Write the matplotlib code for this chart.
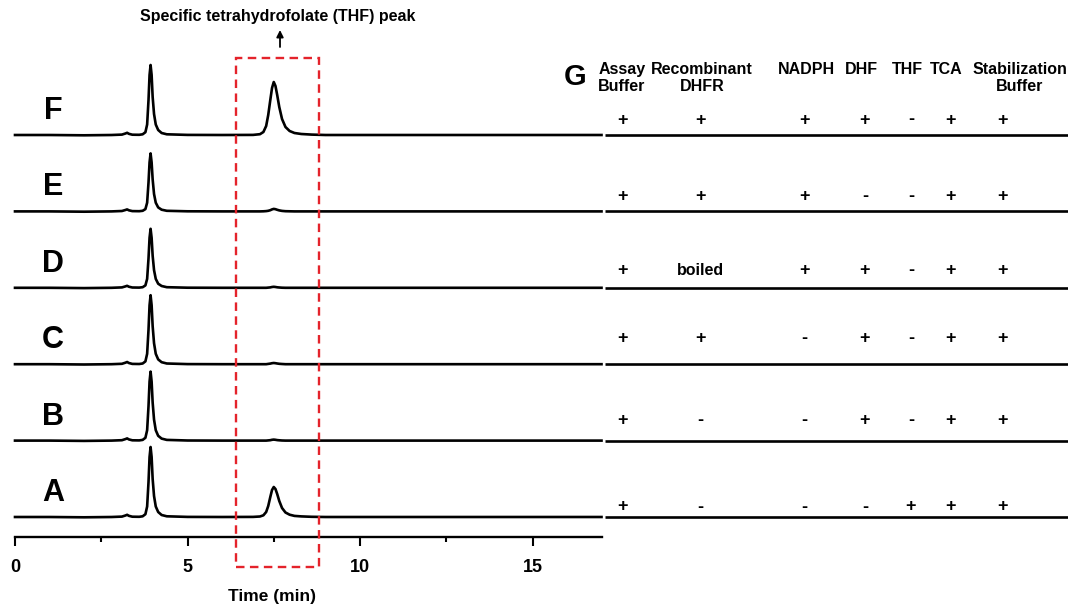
import matplotlib.pyplot as plt
from matplotlib.patches import Rectangle

# retention time grid (min) shared by all traces
t_min = [0.0, 1.0, 2.0, 2.8, 3.1, 3.2, 3.25, 3.3, 3.4, 3.6,
         3.7, 3.78, 3.83, 3.87, 3.9, 3.93, 3.96, 3.99, 4.03, 4.08,
         4.15, 4.25, 4.4, 5.0, 6.0, 6.9,
         7.1, 7.2, 7.28, 7.34, 7.4, 7.45, 7.5, 7.55, 7.6, 7.66,
         7.74, 7.84, 7.96, 8.1, 8.3, 8.6,
         9.0, 10.0, 12.0, 14.0, 17.0]

# detector signal (arbitrary units)
sig_A = [0, 0, -0.3, 0, 0.4, 1.5, 2.2, 1.2, 0.3, 0.2,
         0.7, 2.8, 10.5, 35, 60, 70, 60, 38, 21, 10.5,
         5, 2, 0.7, 0.1, 0, 0.1,
         0.5, 1.7, 5, 11, 20, 27, 30, 28, 23, 16,
         9, 4.5, 2.3, 1.1, 0.6, 0.2,
         0, 0, 0, 0, 0]
sig_B = [0, 0, -0.3, 0, 0.4, 1.5, 2.2, 1.2, 0.3, 0.2,
         0.7, 2.8, 10.4, 34.5, 59, 69, 59, 38, 21, 10.4,
         4.8, 2, 0.7, 0.1, 0, 0,
         0, 0, 0, 0.2, 0.4, 0.8, 1.0, 0.8, 0.5, 0.3,
         0.1, 0, 0, 0, 0, 0,
         0, 0, 0, 0, 0]
sig_C = [0, 0, -0.3, 0, 0.4, 1.5, 2.2, 1.2, 0.3, 0.2,
         0.7, 2.8, 10.4, 34.5, 59, 69, 59, 38, 21, 10.4,
         4.8, 2, 0.7, 0.1, 0, 0,
         0, 0, 0, 0.3, 0.6, 1.0, 1.2, 1.0, 0.7, 0.4,
         0.2, 0, 0, 0, 0, 0,
         0, 0, 0, 0, 0]
sig_D = [0, 0, -0.3, 0, 0.4, 1.4, 2.0, 1.1, 0.3, 0.2,
         0.6, 2.4, 8.9, 29.5, 50, 59, 50, 32, 17.7, 8.9,
         4.1, 1.8, 0.6, 0.1, 0, 0,
         0, 0, 0, 0.2, 0.4, 0.8, 1.0, 0.8, 0.5, 0.3,
         0.1, 0, 0, 0, 0, 0,
         0, 0, 0, 0, 0]
sig_E = [0, 0, -0.3, 0, 0.4, 1.4, 2.0, 1.1, 0.3, 0.2,
         0.6, 2.3, 8.7, 29, 49, 58, 49, 32, 17.4, 8.7,
         4, 1.7, 0.6, 0.1, 0, 0,
         0, 0.1, 0.3, 0.6, 1.2, 2.0, 2.5, 2.2, 1.6, 1.0,
         0.5, 0.2, 0.1, 0, 0, 0,
         0, 0, 0, 0, 0]
sig_F = [0, 0, -0.3, 0, 0.4, 1.5, 2.2, 1.2, 0.3, 0.2,
         0.7, 2.8, 10.5, 35, 60, 70, 60, 38, 21, 10.5,
         5, 2, 0.7, 0.1, 0, 0.1,
         0.8, 3, 9, 20, 35, 47, 53, 49, 40, 28,
         16, 8, 4, 2, 1, 0.4,
         0, 0, 0, 0, 0]

trace_names = ["A", "B", "C", "D", "E", "F"]
traces = [sig_A, sig_B, sig_C, sig_D, sig_E, sig_F]

# table G
columns = ["Assay\nBuffer", "Recombinant\nDHFR", "NADPH", "DHF", "THF", "TCA",
           "Stabilization\nBuffer"]
rows = {
    "A": ["+", "-", "-", "-", "+", "+", "+"],
    "B": ["+", "-", "-", "+", "-", "+", "+"],
    "C": ["+", "+", "-", "+", "-", "+", "+"],
    "D": ["+", "boiled", "+", "+", "-", "+", "+"],
    "E": ["+", "+", "+", "-", "-", "+", "+"],
    "F": ["+", "+", "+", "+", "-", "+", "+"],
}

box_t = (6.4, 8.8)

# ---- layout (pixels of the 1070x607 picture) ----
W, H = 1070, 607
axis_y, top_y = 537, 30
x0_px, x17_px = 15, 601.5
right_end = 1068
spacing = 76.4
offsets = [20 + i * spacing for i in range(6)]
head_x = [622, 702, 806, 861, 907, 946, 1020]
cell_x = [622, 700, 804, 865, 911, 951, 1003]
cell_dy = [10, 20, 26, 17, 15, 15]

plt.rcParams['font.family'] = ['Liberation Sans', 'DejaVu Sans']
plt.rcParams['font.weight'] = 'bold'

fig = plt.figure(figsize=(W / 100, H / 100), dpi=100)


def fx(x):
    return x / W


def fy(y):
    return 1 - y / H


ax = fig.add_axes([fx(x0_px), fy(axis_y), (x17_px - x0_px) / W, (axis_y - top_y) / H])
ax.set_xlim(0, 17)
ax.set_ylim(0, axis_y - top_y)

for name, sig, off in zip(trace_names, traces, offsets):
    ax.plot(t_min, [off + s for s in sig], color='black', lw=1.9,
            solid_joinstyle='round', clip_on=False)
    ax.text(1.1, off + 24, name, fontsize=22, fontweight='bold',
            ha='center', va='center')

for sp in ['top', 'right', 'left']:
    ax.spines[sp].set_visible(False)
ax.spines['bottom'].set_linewidth(1.7)
ax.set_yticks([])
ax.set_xticks([0, 5, 10, 15])
ax.set_xticks([2.5, 7.5, 12.5], minor=True)
ax.tick_params(axis='x', which='major', direction='out', length=6.5, width=1.5,
               labelsize=13, pad=9)
ax.tick_params(axis='x', which='minor', direction='out', length=3.5, width=1.5)
for lab in ax.get_xticklabels():
    lab.set_fontweight('bold')
ax.text(7.45, axis_y - 597, "Time (min)", fontsize=12.5, fontweight='bold',
        ha='center', va='center')

# red dashed box around the THF peak
rect = Rectangle((box_t[0], axis_y - 567), box_t[1] - box_t[0], 567 - 58,
                 fill=False, edgecolor='#e4232b', lw=1.7,
                 linestyle=(0, (3.6, 2.3)), clip_on=False, zorder=5)
ax.add_patch(rect)

fig.text(fx(278), fy(16), "Specific tetrahydrofolate (THF) peak", fontsize=11.5,
         fontweight='bold', ha='center', va='center')
ax.annotate("", xy=(fx(280), fy(30)), xytext=(fx(280), fy(47)),
            xycoords='figure fraction', textcoords='figure fraction',
            arrowprops=dict(arrowstyle='-|>', color='black', lw=1.3,
                            mutation_scale=10, shrinkA=0, shrinkB=0))

# table part
ax2 = fig.add_axes([fx(605), fy(axis_y), (right_end - 605) / W, (axis_y - top_y) / H])
ax2.set_xlim(605, right_end)
ax2.set_ylim(0, axis_y - top_y)
ax2.axis('off')
ax2.hlines(offsets, 605, right_end, color='black', lw=1.9)

fig.text(fx(575), fy(77), "G", fontsize=21, fontweight='bold', ha='center', va='center')
for hx, col in zip(head_x, columns):
    fig.text(fx(hx), fy(62), col, fontsize=11.5, fontweight='bold', ha='center',
             va='top', ma='center', linespacing=1.2)

for name, off, dy in zip(trace_names, offsets, cell_dy):
    for cx, val in zip(cell_x, rows[name]):
        ax2.text(cx, off + dy, val, fontsize=13 if val != "boiled" else 11.5,
                 fontweight='bold', ha='center', va='center', clip_on=False)

fig.savefig("out.png", dpi=100)
